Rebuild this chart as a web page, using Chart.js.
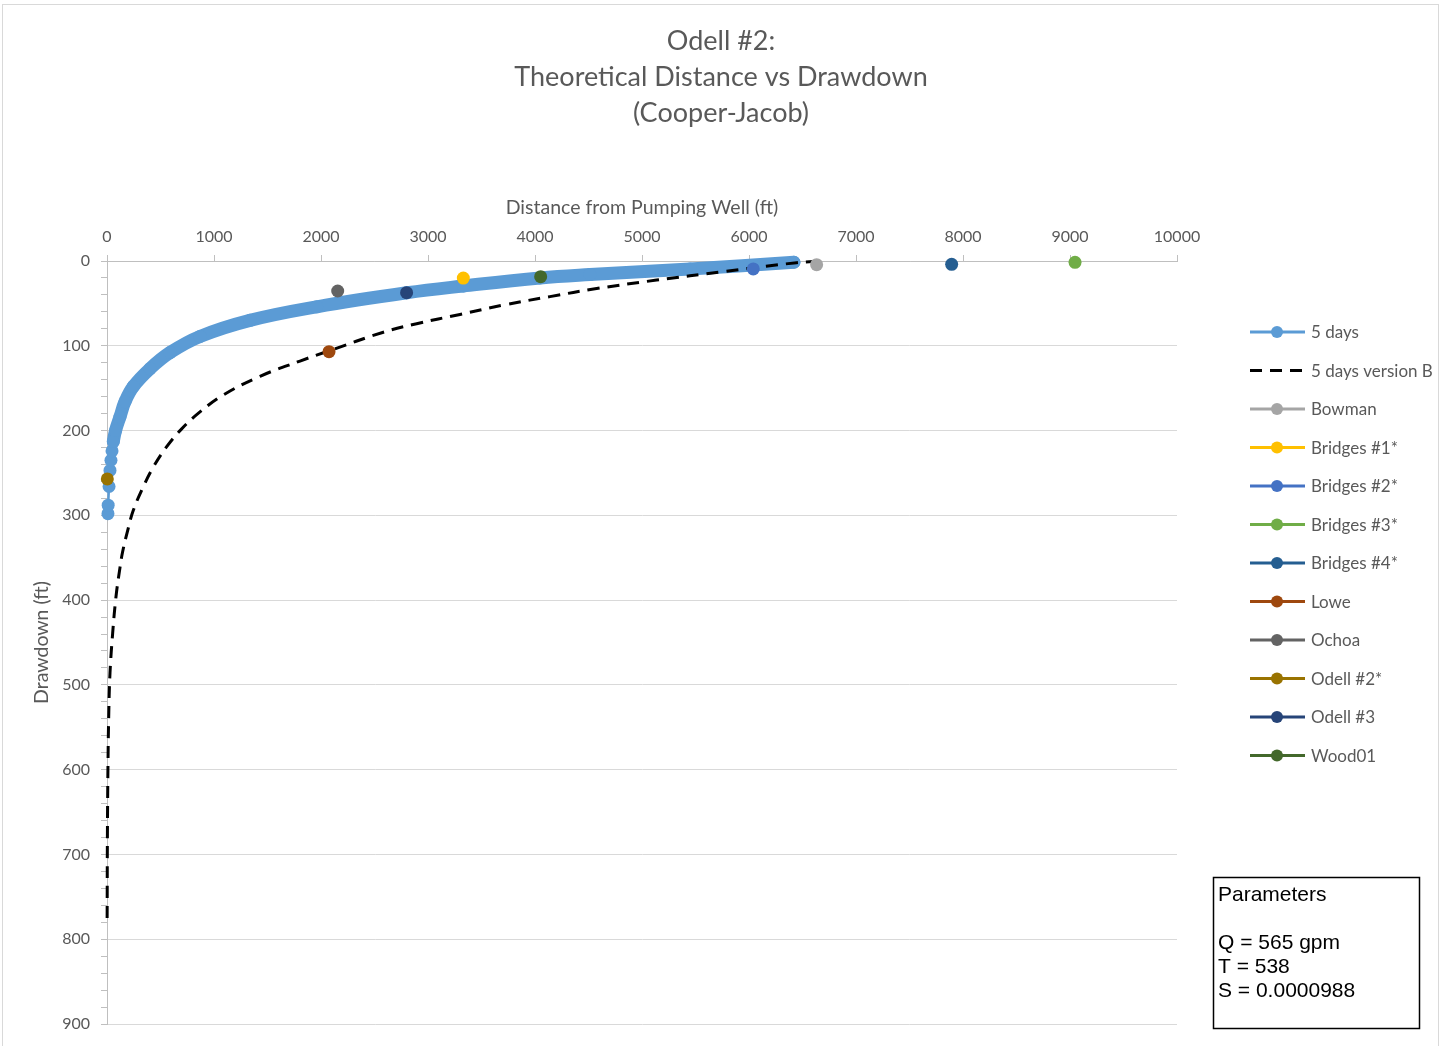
<!DOCTYPE html>
<html>
<head>
<meta charset="utf-8">
<title>Odell #2: Theoretical Distance vs Drawdown (Cooper-Jacob)</title>
<script src="https://cdn.jsdelivr.net/npm/chart.js@4.4.1/dist/chart.umd.min.js"></script>
<style>
  html, body { margin: 0; padding: 0; background: #ffffff; }
  #wrap { width: 1442px; height: 1046px; position: relative; }
  canvas { display: block; }
</style>
</head>
<body>
<div id="wrap"><canvas id="chart" width="1442" height="1046"></canvas></div>
<script>
// ---- chart text ----
const titleLines = ['Odell #2:', 'Theoretical Distance vs Drawdown', '(Cooper-Jacob)'];
const xAxisTitle = 'Distance from Pumping Well (ft)';
const yAxisTitle = 'Drawdown (ft)';
const parameterLines = ['Parameters', '', 'Q = 565 gpm', 'T = 538', 'S = 0.0000988'];

// ---- tick labels ----
const distanceTicks = [0, 1000, 2000, 3000, 4000, 5000, 6000, 7000, 8000, 9000, 10000];
const drawdownTicks = [0, 100, 200, 300, 400, 500, 600, 700, 800, 900];

// ---- theoretical curve, 5 days (distance ft, drawdown ft) ----
const fiveDaysDistance = [9, 11, 19, 28, 37, 47, 59, 80, 121, 168, 246, 402, 589, 869, 1336, 1960, 2801, 3330, 4047, 4514, 5449, 6420];
const fiveDaysDrawdown = [298, 288, 266, 247, 235, 224, 213, 200, 184, 166, 148, 127, 108, 89, 70, 54, 37.5, 29.5, 20, 16, 9.5, 1.5];

// ---- theoretical curve, 5 days version B ----
const versionBDistance = [1.3, 3.9, 9, 16, 28, 53, 84, 121, 146, 199, 246, 340, 433, 558, 698, 869, 1087, 1430, 1804, 2075, 2583, 2894, 3299, 3704, 4140, 4576, 5137, 5760, 6445, 6700];
const versionBDrawdown = [775, 675, 596, 537, 486, 439, 396, 362, 343, 315, 294, 266, 243, 219, 198, 178, 158, 136, 118, 106, 84, 74, 63, 52, 42, 32.5, 22.5, 12.6, 2, 0];

// ---- observed wells ----
const wellNames = ['Bowman', 'Bridges #1*', 'Bridges #2*', 'Bridges #3*', 'Bridges #4*', 'Lowe', 'Ochoa', 'Odell #2*', 'Odell #3', 'Wood01'];
const wellDistance = [6632, 3330, 6040, 9047, 7894, 2075, 2156, 3, 2800, 4053];
const wellDrawdown = [4.3, 20.1, 9.4, 1.6, 3.9, 107, 35.4, 257, 37.4, 18.5];

// ---- styling ----
const wellColors = ['#A5A5A5', '#FFC000', '#4472C4', '#70AD47', '#255E91', '#9E480E', '#636363', '#997300', '#264478', '#43682B'];
const curveColor = '#5B9BD5';
const textColor = '#595959';
const gridColor = '#D9D9D9';
const axisColor = '#BFBFBF';
const FONT = 'Lato, "Open Sans", sans-serif';

const toPoints = (xs, ys) => xs.map((x, i) => ({ x: x, y: ys[i] }));

const datasets = [
  {
    label: '5 days',
    type: 'line',
    data: toPoints(fiveDaysDistance, fiveDaysDrawdown),
    borderColor: curveColor,
    backgroundColor: curveColor,
    borderWidth: 2.5,
    borderCapStyle: 'round',
    borderJoinStyle: 'round',
    pointRadius: 6.5,
    pointBorderWidth: 0,
    pointBackgroundColor: curveColor,
    tension: 0.4,
    segment: {
      // the dense part of the curve reads as one thick band
      borderWidth: ctx => (ctx.p0DataIndex >= 6 ? 13 : 2.5)
    },
    fill: false,
    clip: false,
    order: 3,
    legendMarker: true
  },
  {
    label: '5 days version B',
    type: 'line',
    data: toPoints(versionBDistance, versionBDrawdown),
    borderColor: '#000000',
    borderWidth: 3,
    borderDash: [12, 8],
    borderCapStyle: 'butt',
    pointRadius: 0,
    tension: 0.4,
    fill: false,
    clip: false,
    order: 2,
    legendMarker: false
  }
].concat(wellNames.map((name, i) => ({
  label: name,
  type: 'scatter',
  data: [{ x: wellDistance[i], y: wellDrawdown[i] }],
  borderColor: wellColors[i],
  backgroundColor: wellColors[i],
  pointRadius: 6.5,
  pointBorderWidth: 0,
  pointBackgroundColor: wellColors[i],
  clip: false,
  order: 1,
  legendMarker: true
})));

// title, legend, parameters box and outer frame
const decorations = {
  id: 'decorations',
  beforeDraw(chart) {
    const ctx = chart.ctx;
    ctx.save();
    ctx.fillStyle = '#ffffff';
    ctx.fillRect(0, 0, chart.width, chart.height);
    ctx.strokeStyle = gridColor;
    ctx.lineWidth = 1;
    ctx.strokeRect(2.5, 4.5, 1436, 1060);
    ctx.restore();
  },
  afterDraw(chart) {
    const ctx = chart.ctx;
    ctx.save();

    // title
    ctx.fillStyle = textColor;
    ctx.font = '27px ' + FONT;
    ctx.textAlign = 'center';
    ctx.textBaseline = 'middle';
    titleLines.forEach((t, i) => ctx.fillText(t, 721, 41 + i * 36));

    // legend
    const lx0 = 1250, lx1 = 1305, lmark = 1277, ltext = 1311, ly0 = 332, lstep = 38.5;
    ctx.font = '17px ' + FONT;
    ctx.textAlign = 'left';
    chart.data.datasets.forEach((ds, i) => {
      const y = ly0 + i * lstep;
      ctx.save();
      ctx.strokeStyle = ds.borderColor;
      ctx.lineWidth = 3;
      ctx.setLineDash(ds.borderDash || []);
      ctx.beginPath();
      ctx.moveTo(lx0, y);
      ctx.lineTo(lx1, y);
      ctx.stroke();
      ctx.restore();
      if (ds.legendMarker) {
        ctx.fillStyle = ds.pointBackgroundColor;
        ctx.beginPath();
        ctx.arc(lmark, y, 6, 0, Math.PI * 2);
        ctx.fill();
      }
      ctx.fillStyle = textColor;
      ctx.fillText(ds.label, ltext, y + 1);
    });

    // parameters box
    ctx.strokeStyle = '#000000';
    ctx.lineWidth = 1.5;
    ctx.strokeRect(1213.5, 877.5, 206, 151);
    ctx.fillStyle = '#000000';
    ctx.font = '21px "Liberation Sans", Arial, sans-serif';
    ctx.textAlign = 'left';
    ctx.textBaseline = 'middle';
    const py = [895, 919, 943, 967, 991];
    parameterLines.forEach((t, i) => { if (t) ctx.fillText(t, 1218, py[i]); });

    ctx.restore();
  }
};

Chart.defaults.font.family = FONT;
Chart.defaults.color = textColor;

new Chart(document.getElementById('chart'), {
  type: 'scatter',
  data: { datasets: datasets },
  options: {
    responsive: false,
    animation: false,
    events: [],
    layout: { padding: { left: 0, top: 194, right: 265, bottom: 22 } },
    plugins: {
      legend: { display: false },
      title: { display: false },
      tooltip: { enabled: false }
    },
    scales: {
      x: {
        type: 'linear',
        position: 'top',
        min: 0,
        max: 10000,
        afterFit(scale) { scale.height = 67; },
        afterBuildTicks(scale) { scale.ticks = distanceTicks.map(v => ({ value: v })); },
        ticks: {
          font: { size: 16 },
          color: textColor,
          padding: 9,
          maxRotation: 0,
          autoSkip: false,
          callback: v => String(v)
        },
        grid: {
          drawOnChartArea: false,
          drawTicks: true,
          tickLength: 6,
          tickColor: axisColor
        },
        border: { display: true, color: axisColor, width: 1 },
        title: {
          display: true,
          text: xAxisTitle,
          font: { size: 19.5 },
          color: textColor,
          padding: { top: 2, bottom: 0 }
        }
      },
      y: {
        type: 'linear',
        position: 'left',
        reverse: true,
        min: 0,
        max: 900,
        afterFit(scale) { scale.width = 107; },
        afterBuildTicks(scale) {
          // major ticks carry labels, minor ticks every 20 ft
          const ticks = [];
          for (let v = 0; v <= 900; v += 20) ticks.push({ value: v });
          scale.ticks = ticks;
        },
        ticks: {
          font: { size: 16 },
          color: textColor,
          padding: 11,
          autoSkip: false,
          callback: v => (drawdownTicks.includes(v) ? String(v) : '')
        },
        grid: {
          drawOnChartArea: true,
          drawTicks: true,
          tickLength: 6,
          tickColor: axisColor,
          color: c => (c.tick && drawdownTicks.includes(c.tick.value) ? gridColor : 'rgba(0,0,0,0)')
        },
        border: { display: true, color: axisColor, width: 1 },
        title: {
          display: true,
          text: yAxisTitle,
          font: { size: 19.5 },
          color: textColor,
          padding: { top: 30, bottom: 0 }
        }
      }
    }
  },
  plugins: [decorations]
});
</script>
</body>
</html>
